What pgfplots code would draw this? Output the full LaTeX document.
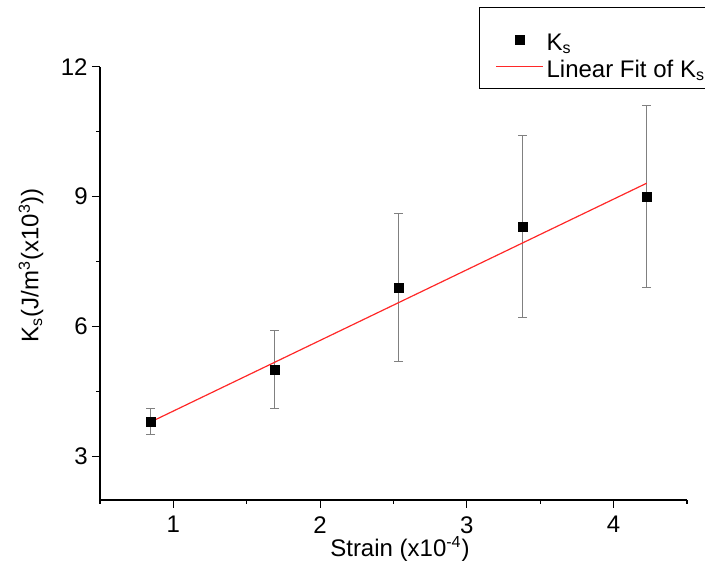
\documentclass[border=0pt]{standalone}
\usepackage{fontspec}
\setmainfont{Liberation Sans}
\usepackage{pgfplots}
\pgfplotsset{compat=1.18}
\definecolor{fitred}{RGB}{255,40,40}
\begin{document}
\fontsize{12pt}{14pt}\selectfont
\begin{tikzpicture}
\useasboundingbox (-50pt,-38pt) rectangle (302.5pt,250pt);
\clip (-50pt,-38pt) rectangle (302.5pt,250pt);
\begin{axis}[
  at={(0,0)}, anchor=south west,
  scale only axis, width=293.5pt, height=216.67pt,
  xmin=0.5, xmax=4.5, ymin=2, ymax=12,
  axis lines*=left,
  axis line style={-, line width=0.6pt, black},
  xtick={1,2,3,4}, ytick={3,6,9,12},
  minor xtick={0.5,1.5,2.5,3.5,4.5},
  minor ytick={4.5,7.5,10.5},
  tick align=outside,
  major tick length=4pt, minor tick length=2pt,
  tick style={line width=0.6pt, black},
  /pgf/number format/assume math mode=true,
  ticklabel style={font=\fontsize{12pt}{14pt}\selectfont},
  yticklabel style={xshift=2pt},
  xlabel={Strain (x10\textsuperscript{-4})},
  ylabel={K\textsubscript{s}(J/m\textsuperscript{3}(x10\textsuperscript{3}))},
  label style={font=\fontsize{12pt}{14pt}\selectfont},
  xlabel style={at={(axis description cs:0.511,0)}, anchor=center, yshift=-24.5pt},
  ylabel style={at={(axis description cs:-0.1175,0.542)}, anchor=center},
  legend cell align=left,
  legend style={at={(axis description cs:0.6457,1.1377)}, anchor=north west,
    draw=black, inner xsep=8pt, inner ysep=4pt,
    font=\fontsize{12pt}{14pt}\selectfont,
    nodes={inner sep=1.5pt, text height=16pt, text depth=0pt},
    row sep=-5.5pt},
  legend image code/.code={\draw[yshift=-2.75pt,mark repeat=2,mark phase=2,#1] plot coordinates {(0pt,0pt) (11.75pt,0pt) (23.5pt,0pt)};},
]
\addplot[only marks, mark=square*, mark size=2.2pt, black,
  error bars/.cd, y dir=both, y explicit,
  error bar style={gray, line width=0.5pt},
  error mark options={rotate=90, mark size=2.2pt, gray, line width=0.5pt}]
  table[x=x, y=y, y error=e] {
x y e
0.845 3.8 0.3
1.69 5.0 0.9
2.535 6.9 1.7
3.38 8.3 2.1
4.225 9.0 2.1
};
\addlegendentry{K\textsubscript{s}}
\addplot[color=fitred, draw=fitred, line width=0.6pt,
  legend image code/.code={\pgfsetstrokecolor{fitred}\pgfsetlinewidth{0.6pt}\pgfpathmoveto{\pgfpoint{0pt}{-2.75pt}}\pgfpathlineto{\pgfpoint{23.5pt}{-2.75pt}}\pgfusepath{stroke}}]
  coordinates {(0.845,3.80) (4.225,9.31)};
\addlegendentry{Linear Fit of K\textsubscript{s}}
\end{axis}
\end{tikzpicture}
\end{document}
